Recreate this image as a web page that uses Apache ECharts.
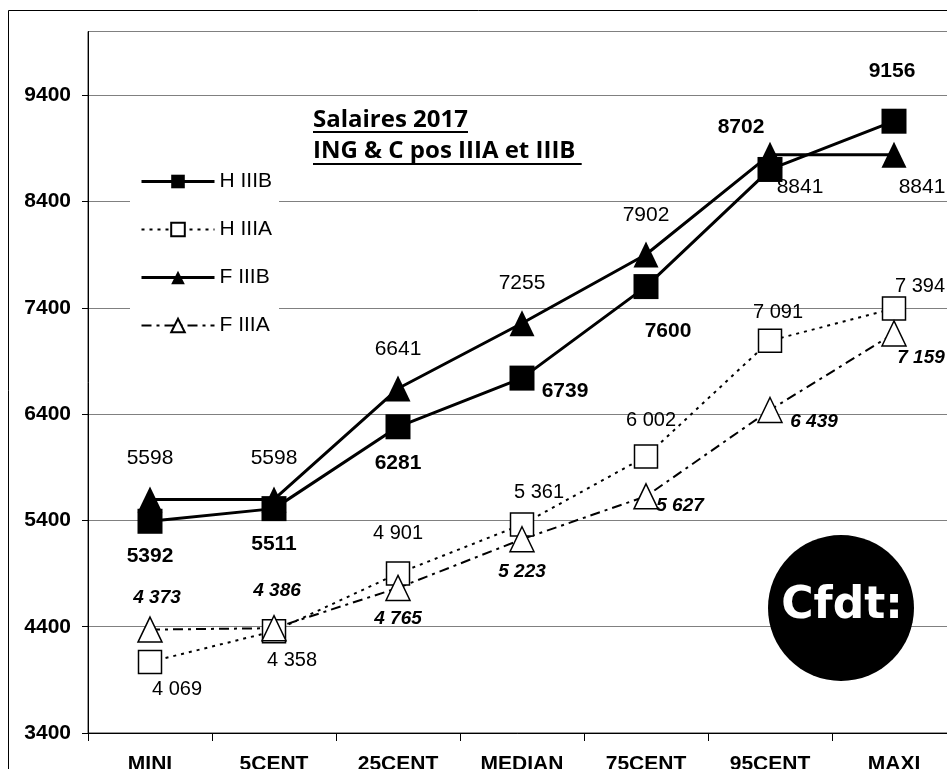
<!DOCTYPE html>
<html><head><meta charset="utf-8">
<script src="https://cdn.jsdelivr.net/npm/echarts@6/dist/echarts.min.js"></script>
<style>html,body{margin:0;padding:0;background:#fff}#c{width:947px;height:769px}</style>
</head><body><div id="c"></div>
<script>
// ---- data ----
const categories = ['MINI', '5CENT', '25CENT', 'MEDIAN', '75CENT', '95CENT', 'MAXI'];
const seriesNames = ['H IIIB', 'H IIIA', 'F IIIB', 'F IIIA'];
const hIIIB = [5392, 5511, 6281, 6739, 7600, 8702, 9156];
const hIIIA = [4069, 4358, 4901, 5361, 6002, 7091, 7394];
const fIIIB = [5598, 5598, 6641, 7255, 7902, 8841, 8841];
const fIIIA = [4373, 4386, 4765, 5223, 5627, 6439, 7159];
const yMin = 3400, yMax = 10000, yStep = 1000;
const titleLines = ['Salaires 2017', 'ING & C pos IIIA et IIIB '];
const logoText = 'Cfdt:';

// ---- label placement (style) ----
const offHB = [[0,35],[0,36],[0,36],[43,13],[22,45],[-29,-42],[-2,-50]];
const offHA = [[27,28],[18,29],[0,-40],[17,-32],[5,-36],[8,-28],[26,-22]];
const offFB = [[0,-41],[0,-41],[0,-39],[0,-40],[0,-39],[30,33],[28,33]];
const offFA = [[7,-32],[3,-37],[0,31],[0,33],[34,9],[44,12],[27,24]];
const legendLineWidths = [3, 2, 3, 2];

const FF = '"Liberation Sans", Arial, sans-serif';
function spaced(v) { return String(v).replace(/\B(?=(\d{3})+(?!\d))/g, ' '); }
function build(values, offs) { return values.map((v, i) => ({ value: v, label: { offset: offs[i] } })); }

function measure(text, font) {
  const c = document.createElement('canvas').getContext('2d');
  c.font = font; return c.measureText(text).width;
}
const titleFont = 'bold 24px "Open Sans"';
const tw1 = measure(titleLines[0], titleFont);
const tw2 = measure(titleLines[1], titleFont);

const chart = echarts.init(document.getElementById('c'), null, { renderer: 'canvas' });
const baseLabel = { show: true, position: 'inside', color: '#000', fontFamily: FF, textBorderWidth: 0 };

chart.setOption({
  animation: false,
  backgroundColor: '#fff',
  grid: { left: 88, top: 31.5, right: -9, bottom: 36, show: true, borderColor: '#333', borderWidth: 1, outerBoundsMode: 'none', containLabel: false },
  xAxis: {
    type: 'category', data: categories, boundaryGap: true,
    axisLine: { lineStyle: { color: '#000', width: 1 } },
    axisTick: { show: true, length: 8, lineStyle: { color: '#000' } },
    axisLabel: { color: '#000', fontFamily: FF, fontWeight: 'bold', fontSize: 21, margin: 21, interval: 0 },
    splitLine: { show: false }
  },
  yAxis: {
    type: 'value', min: yMin, max: yMax, interval: yStep,
    axisLine: { show: true, lineStyle: { color: '#000', width: 1 } },
    axisTick: { show: true, length: 6, lineStyle: { color: '#000' } },
    axisLabel: { color: '#000', fontFamily: FF, fontWeight: 'bold', fontSize: 21, margin: 17, showMaxLabel: false, formatter: v => String(v) },
    splitLine: { show: true, lineStyle: { color: '#808080', width: 1 } }
  },
  legend: {
    data: seriesNames.map((n, i) => ({ name: n, lineStyle: { width: legendLineWidths[i] } })),
    orient: 'vertical', left: 130, top: 160,
    itemWidth: 73, itemHeight: 17, itemGap: 27,
    padding: [11, 7, 11, 10], backgroundColor: '#fff', selectedMode: false,
    textStyle: { color: '#000', fontFamily: FF, fontSize: 21, lineHeight: 21 }
  },
  series: [
    {
      name: 'H IIIB', type: 'line', data: build(hIIIB, offHB), z: 3,
      symbol: 'rect', symbolSize: 25, showAllSymbol: true,
      lineStyle: { color: '#000', width: 3 }, itemStyle: { color: '#000' },
      label: Object.assign({}, baseLabel, { fontSize: 21, fontWeight: 'bold' })
    },
    {
      name: 'H IIIA', type: 'line', data: build(hIIIA, offHA), z: 3,
      symbol: 'rect', symbolSize: 23, showAllSymbol: true,
      lineStyle: { color: '#000', width: 2, type: [3, 5] },
      itemStyle: { color: '#fff', borderColor: '#000', borderWidth: 1.5 },
      label: Object.assign({}, baseLabel, { fontSize: 20, formatter: p => spaced(p.value) })
    },
    {
      name: 'F IIIB', type: 'line', data: build(fIIIB, offFB), z: 3,
      symbol: 'triangle', symbolSize: [25, 26], showAllSymbol: true,
      lineStyle: { color: '#000', width: 3 }, itemStyle: { color: '#000' },
      label: Object.assign({}, baseLabel, { fontSize: 21 })
    },
    {
      name: 'F IIIA', type: 'line', data: build(fIIIA, offFA), z: 3,
      symbol: 'triangle', symbolSize: [24, 25], showAllSymbol: true,
      lineStyle: { color: '#000', width: 2, type: [10, 5, 3, 5] },
      itemStyle: { color: '#fff', borderColor: '#000', borderWidth: 1.5 },
      label: Object.assign({}, baseLabel, { fontSize: 19, fontWeight: 'bold', fontStyle: 'italic', formatter: p => spaced(p.value) })
    }
  ],
  graphic: [
    { type: 'rect', silent: true, z: 100, shape: { x: 8.5, y: 10.5, width: 1000, height: 1000 }, style: { fill: 'none', stroke: '#000', lineWidth: 1 } },
    { type: 'text', z: 100, x: 313, y: 120, style: { text: titleLines[0], font: titleFont, fill: '#000', align: 'left', verticalAlign: 'middle' } },
    { type: 'line', z: 100, shape: { x1: 313, y1: 132, x2: 313 + tw1, y2: 132 }, style: { stroke: '#000', lineWidth: 2 } },
    { type: 'text', z: 100, x: 313, y: 151, style: { text: titleLines[1], font: titleFont, fill: '#000', align: 'left', verticalAlign: 'middle' } },
    { type: 'line', z: 100, shape: { x1: 313, y1: 164, x2: 313 + tw2, y2: 164 }, style: { stroke: '#000', lineWidth: 2 } },
    { type: 'circle', z: 100, shape: { cx: 841, cy: 608, r: 73 }, style: { fill: '#000' } },
    { type: 'text', z: 101, x: 842, y: 607, style: { text: logoText, font: 'bold 44px "DejaVu Sans"', fill: '#fff', align: 'center', verticalAlign: 'middle' } }
  ]
});
</script>
</body></html>
